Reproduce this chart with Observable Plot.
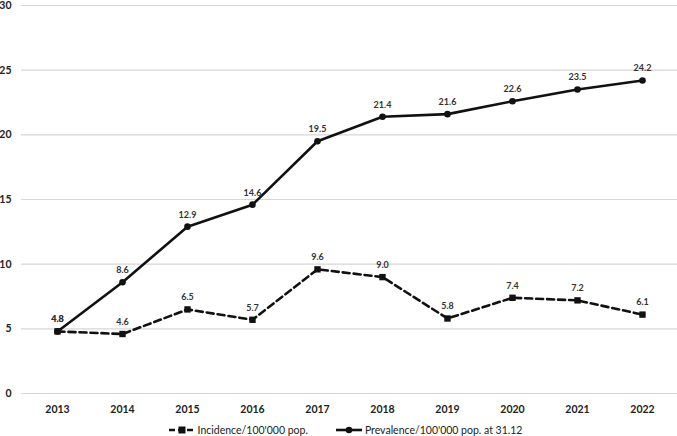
<!DOCTYPE html>
<html>
<head>
<meta charset="utf-8">
<script src="https://cdn.jsdelivr.net/npm/d3@7"></script>
<script src="https://cdn.jsdelivr.net/npm/@observablehq/plot@0.6"></script>
<style>
  html, body { margin: 0; padding: 0; background: #fff; }
  #chart { width: 677px; font-family: Lato, "Open Sans", sans-serif; }
  .legend { display: flex; justify-content: center; align-items: center; height: 16px;
            font-size: 10.5px; color: #222; padding-left: 14px; margin-top: 2px; }
  .legend .item { display: flex; align-items: center; margin: 0 14px; }
  .legend svg { margin-right: 3px; }
</style>
</head>
<body>
<div id="chart"></div>
<script>
const years = ["2013", "2014", "2015", "2016", "2017", "2018", "2019", "2020", "2021", "2022"];
const incidence = [4.8, 4.6, 6.5, 5.7, 9.6, 9.0, 5.8, 7.4, 7.2, 6.1];
const prevalence = [4.8, 8.6, 12.9, 14.6, 19.5, 21.4, 21.6, 22.6, 23.5, 24.2];
const yTicks = [0, 5, 10, 15, 20, 25, 30];
const seriesNames = ["Incidence/100'000 pop.", "Prevalence/100'000 pop. at 31.12"];

const inc = years.map((year, i) => ({year, value: incidence[i]}));
const prev = years.map((year, i) => ({year, value: prevalence[i]}));

const ink = "#111";

const plot = Plot.plot({
  width: 677,
  height: 420,
  marginLeft: 21,
  marginRight: 0,
  marginTop: 5,
  marginBottom: 27,
  style: {fontFamily: "Lato, 'Open Sans', sans-serif", background: "#fff"},
  x: {type: "point", domain: years, padding: 0.5},
  y: {domain: [0, 30]},
  marks: [
    Plot.gridY(yTicks, {stroke: "#d6d6d6", strokeOpacity: 1, strokeWidth: 1.2}),
    Plot.axisY(yTicks, {tickSize: 0, tickPadding: 10, label: null, fontSize: 10.5, fontWeight: "bold", fill: "#222"}),
    Plot.axisX({tickSize: 0, tickPadding: 12, label: null, fontSize: 10.5, fontWeight: "bold", fill: "#222"}),
    Plot.line(inc, {x: "year", y: "value", stroke: ink, strokeWidth: 2.6, strokeDasharray: "7,4"}),
    Plot.dot(inc, {x: "year", y: "value", symbol: "square", r: 3.6, fill: ink, stroke: "none"}),
    Plot.line(prev, {x: "year", y: "value", stroke: ink, strokeWidth: 2.6}),
    Plot.dot(prev, {x: "year", y: "value", symbol: "circle", r: 3.3, fill: ink, stroke: "none"}),
    Plot.text(inc, {x: "year", y: "value", text: d => d.value.toFixed(1), dy: -12, fontSize: 9, fontWeight: "bold", fill: "#333"}),
    Plot.text(prev, {x: "year", y: "value", text: d => d.value.toFixed(1), dy: -12, fontSize: 9, fontWeight: "bold", fill: "#333"})
  ]
});

const chart = document.getElementById("chart");
chart.appendChild(plot);

// Legend below the plot: dashed line with square, solid line with circle
const legend = document.createElement("div");
legend.className = "legend";
const icons = [
  `<svg width="26" height="10"><line x1="0" y1="5" x2="26" y2="5" stroke="${ink}" stroke-width="2.6" stroke-dasharray="6,3"/><rect x="9.5" y="1.5" width="7" height="7" fill="${ink}"/></svg>`,
  `<svg width="26" height="10"><line x1="0" y1="5" x2="26" y2="5" stroke="${ink}" stroke-width="2.6"/><circle cx="13" cy="5" r="3.3" fill="${ink}"/></svg>`
];
seriesNames.forEach((name, i) => {
  const item = document.createElement("div");
  item.className = "item";
  item.innerHTML = icons[i] + `<span>${name}</span>`;
  legend.appendChild(item);
});
chart.appendChild(legend);
</script>
</body>
</html>
